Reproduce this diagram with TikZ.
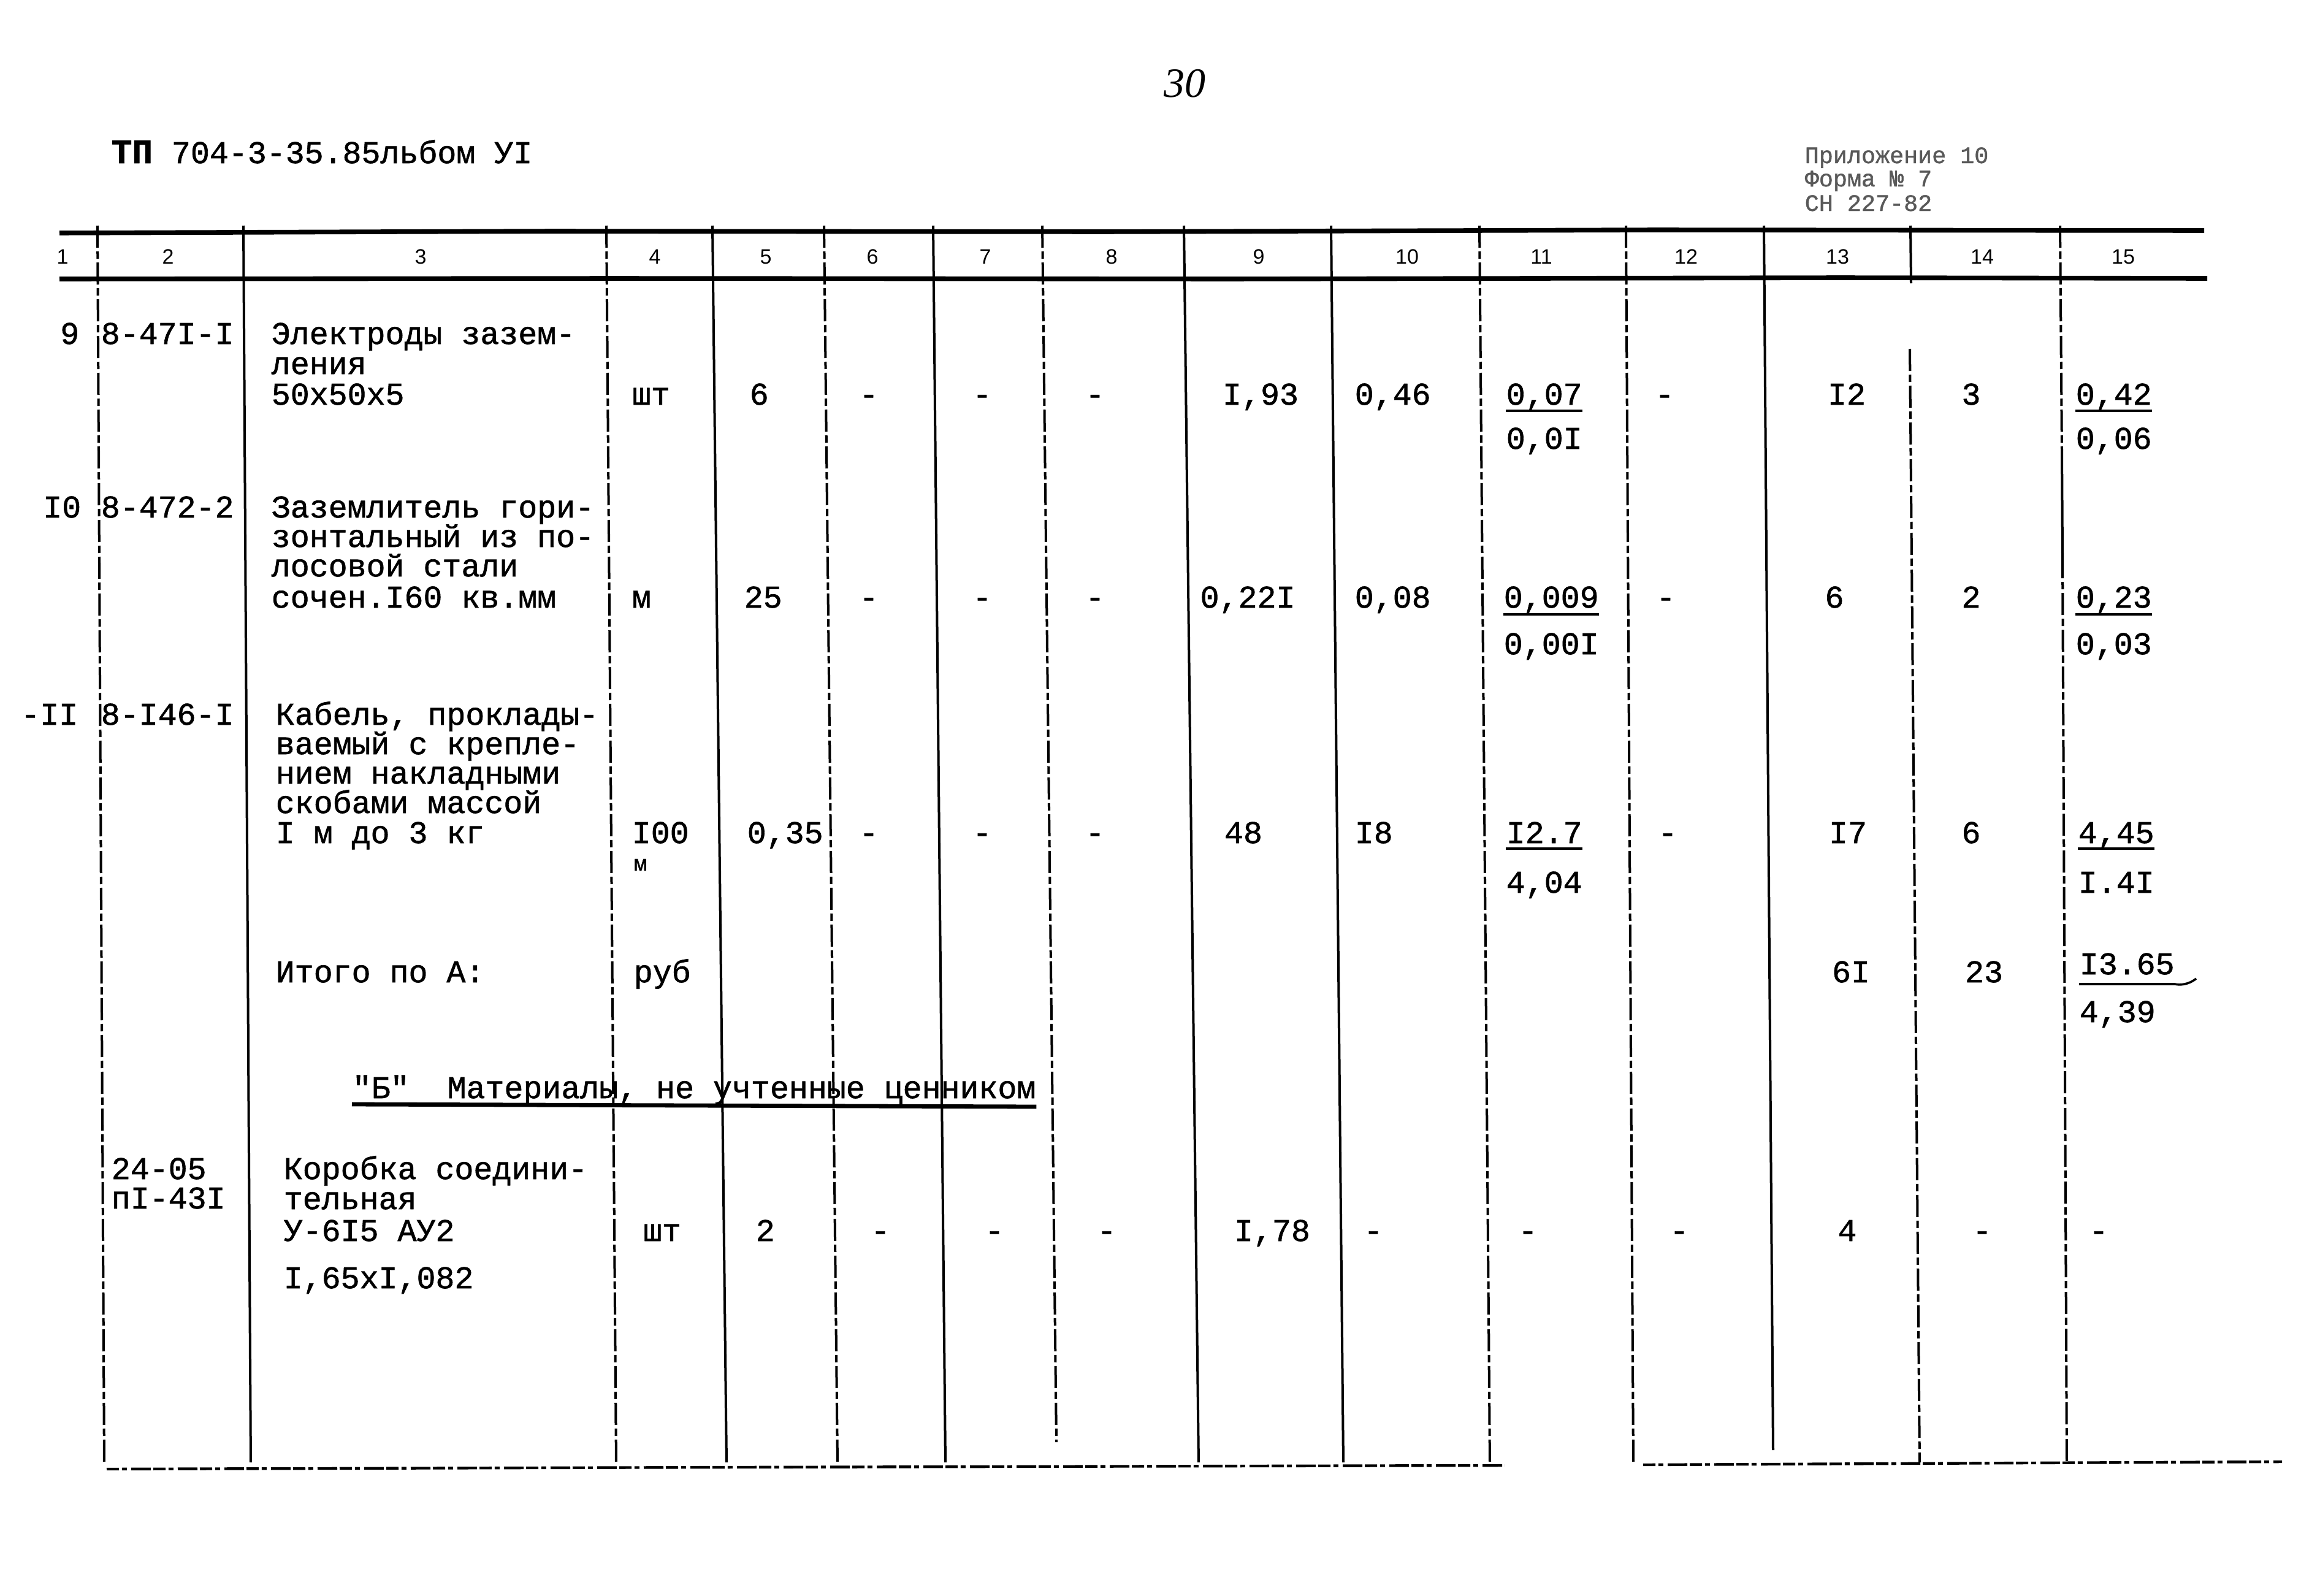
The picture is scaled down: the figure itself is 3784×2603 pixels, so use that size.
\documentclass[tikz,border=0pt]{standalone}
\usepackage{fontspec}
\newfontfamily\twf[FakeBold=1.2]{Liberation Mono}
\newfontfamily\hnf{Liberation Sans}
\newfontfamily\pnf{Liberation Serif}
\newcommand\TxL[4]{\node[tw,anchor=base west] (#1) at (#2,#3) {#4};}
\newcommand\TxC[4]{\node[tw,anchor=base] (#1) at (#2,#3) {#4};}
\newcommand\TxR[4]{\node[tw,anchor=base east] (#1) at (#2,#3) {#4};}
\begin{document}
\begin{tikzpicture}[x=0.25pt,y=-0.25pt,
  tw/.style={font=\twf\fontsize{12.9pt}{12pt}\selectfont,inner sep=0pt},
  hnum/.style={font=\hnf\fontsize{8.5pt}{9pt}\selectfont,inner sep=0pt,anchor=base},
  small/.style={font=\twf\fontsize{9.6pt}{10pt}\selectfont,inner sep=0pt,anchor=base west,text=black!65},
  rule/.style={line width=1.9pt},
  sol/.style={line width=1pt},
  brk/.style={line width=1pt,dash pattern=on 9pt off 1.5pt on 3pt off 1.5pt},
  ul/.style={line width=0.9pt},
  noisy/.style={line width=1.1pt,dash pattern=on 5pt off 1.2pt on 2pt off 1.8pt on 8pt off 1pt}]
\useasboundingbox (0,0) rectangle (3784,2603);

% page number and titles
\node[font=\pnf\itshape\fontsize{17pt}{17pt}\selectfont,inner sep=0pt] (pg) at (1932,136) {30};
\node[tw,anchor=base west] (title) at (181,266) {{\bfseries\fontsize{14pt}{14pt}\selectfont ТП} 704-3-35.85льбом УI};
\node[small] (ap1) at (2943,266) {Приложение 10};
\node[small] (ap2) at (2943,304) {Форма № 7};
\node[small] (ap3) at (2943,344) {СН 227-82};

% header rules
\draw[rule] (97,380) -- (900,377) -- (1800,378) -- (2700,375) -- (3595,376);
\draw[rule] (97,455) -- (1000,454) -- (2000,455) -- (3000,453) -- (3600,454);

% header column numbers
\foreach \x/\t [count=\i] in {102/1,274/2,686/3,1068/4,1249/5,1423/6,1607/7,1813/8,2053/9,2295/10,2514/11,2750/12,2997/13,3233/14,3463/15}
  \node[hnum] (h\i) at (\x,430) {\t};

% vertical grid lines (top x / bottom x / style / bottom y)
\foreach \a/\b/\s/\yb in {159/170/brk/2385, 397/409/sol/2385, 989/1005/brk/2385,
   1162/1185/sol/2385, 1344/1366/brk/2385, 1522/1542/sol/2385, 1700/1723/brk/2352,
   1931/1955/sol/2385, 2171/2191/sol/2385, 2413/2430/brk/2385, 2652/2664/brk/2385,
   2877/2892/sol/2365}
  \draw[\s] (\a,368) -- (\b,\yb);
\draw[sol] (3116,368) -- (3117,462);
\draw[brk] (3115,569) -- (3131,2385);
\draw[brk] (3360,368) -- (3363,735);
\draw[sol] (3363,735) -- (3364,907);
\draw[brk] (3364,907) -- (3371,2385);

% bottom line
\draw[noisy] (174,2396) -- (1200,2393) -- (2454,2390);
\draw[noisy] (2680,2389) -- (3722,2384);

% ---------- row 9
\TxR{n9}{130}{561}{9}
\TxL{c9}{164}{561}{8-47I-I}
\TxL{d9a}{442}{561}{Электроды зазем-}
\TxL{d9b}{442}{610}{ления}
\TxL{d9c}{442}{660}{50x50x5}
\TxC{u9}{1062}{660}{шт}
\TxL{q9}{1222}{660}{6}
\TxC{m9a}{1417}{660}{-}
\TxC{m9b}{1602}{660}{-}
\TxC{m9c}{1786}{660}{-}
\TxC{p9}{2056}{660}{I,93}
\TxL{s9}{2209}{660}{0,46}
\TxL{f9a}{2456}{660}{0,07}
\TxL{f9b}{2456}{732}{0,0I}
\TxC{k9}{2715}{660}{-}
\TxC{t9}{3012}{660}{I2}
\TxC{v9}{3215}{660}{3}
\TxL{g9a}{3385}{660}{0,42}
\TxL{g9b}{3385}{732}{0,06}
\draw[ul] (f9a.west |- 0,670) -- (f9a.east |- 0,670);
\draw[ul] (g9a.west |- 0,670) -- (g9a.east |- 0,670);

% ---------- row 10
\TxR{n10}{133}{844}{I0}
\TxL{c10}{164}{844}{8-472-2}
\TxL{d10a}{442}{844}{Заземлитель гори-}
\TxL{d10b}{442}{892}{зонтальный из по-}
\TxL{d10c}{442}{940}{лосовой стали}
\TxL{d10d}{442}{991}{сочен.I60 кв.мм}
\TxL{u10}{1030}{991}{м}
\TxL{q10}{1213}{991}{25}
\TxC{m10a}{1417}{991}{-}
\TxC{m10b}{1602}{991}{-}
\TxC{m10c}{1786}{991}{-}
\TxC{p10}{2035}{991}{0,22I}
\TxL{s10}{2209}{991}{0,08}
\TxL{f10a}{2452}{991}{0,009}
\TxL{f10b}{2452}{1067}{0,00I}
\TxC{k10}{2717}{991}{-}
\TxC{t10}{2992}{991}{6}
\TxC{v10}{3215}{991}{2}
\TxL{g10a}{3385}{991}{0,23}
\TxL{g10b}{3385}{1067}{0,03}
\draw[ul] (f10a.west |- 0,1002) -- (f10a.east |- 0,1002);
\draw[ul] (g10a.west |- 0,1002) -- (g10a.east |- 0,1002);

% ---------- row 11
\TxR{n11}{128}{1182}{-II}
\TxL{c11}{164}{1182}{8-I46-I}
\TxL{d11a}{449}{1182}{Кабель, проклады-}
\TxL{d11b}{449}{1230}{ваемый с крепле-}
\TxL{d11c}{449}{1278}{нием накладными}
\TxL{d11d}{449}{1326}{скобами массой}
\TxL{d11e}{449}{1375}{I м до 3 кг}
\TxL{u11}{1030}{1375}{I00}
\node[tw,anchor=base west,font=\twf\fontsize{9pt}{9pt}\selectfont] (u11b) at (1033,1420) {м};
\TxL{q11}{1218}{1375}{0,35}
\TxC{m11a}{1417}{1375}{-}
\TxC{m11b}{1602}{1375}{-}
\TxC{m11c}{1786}{1375}{-}
\TxC{p11}{2028}{1375}{48}
\TxL{s11}{2209}{1375}{I8}
\TxL{f11a}{2456}{1375}{I2.7}
\TxL{f11b}{2456}{1456}{4,04}
\TxC{k11}{2720}{1375}{-}
\TxC{t11}{3014}{1375}{I7}
\TxC{v11}{3215}{1375}{6}
\TxL{g11a}{3389}{1375}{4,45}
\TxL{g11b}{3389}{1456}{I.4I}
\draw[ul] (f11a.west |- 0,1384) -- (f11a.east |- 0,1384);
\draw[ul] (g11a.west |- 0,1384) -- (g11a.east |- 0,1384);

% ---------- total A
\TxL{it}{449}{1602}{Итого по А:}
\TxL{itu}{1033}{1602}{руб}
\TxC{itt}{3019}{1602}{6I}
\TxC{itv}{3236}{1602}{23}
\TxL{itg}{3391}{1589}{I3.65}
\TxL{itg2}{3391}{1667}{4,39}
\draw[ul] (itg.west |- 0,1605) -- (itg.east |- 0,1605) .. controls (3555,1607) and (3570,1606) .. (3582,1596);

% ---------- section B
\TxL{hb}{574}{1791}{"Б"\ \ Материалы, не учтенные ценником}
\draw[line width=1.7pt] (hb.west |- 0,1801) -- (hb.east |- 0,1805);

% ---------- row B1
\TxL{c12a}{181}{1923}{24-05}
\TxL{c12b}{181}{1971}{пI-43I}
\TxL{d12a}{462}{1923}{Коробка соедини-}
\TxL{d12b}{462}{1972}{тельная}
\TxL{d12c}{462}{2024}{У-6I5 АУ2}
\TxL{d12d}{462}{2101}{I,65xI,082}
\TxC{u12}{1080}{2024}{шт}
\TxL{q12}{1232}{2024}{2}
\TxC{m12a}{1436}{2024}{-}
\TxC{m12b}{1622}{2024}{-}
\TxC{m12c}{1805}{2024}{-}
\TxC{p12}{2075}{2024}{I,78}
\TxC{s12}{2240}{2024}{-}
\TxC{f12}{2492}{2024}{-}
\TxC{k12}{2739}{2024}{-}
\TxC{t12}{3013}{2024}{4}
\TxC{v12}{3233}{2024}{-}
\TxC{g12}{3423}{2024}{-}
\end{tikzpicture}
\end{document}
